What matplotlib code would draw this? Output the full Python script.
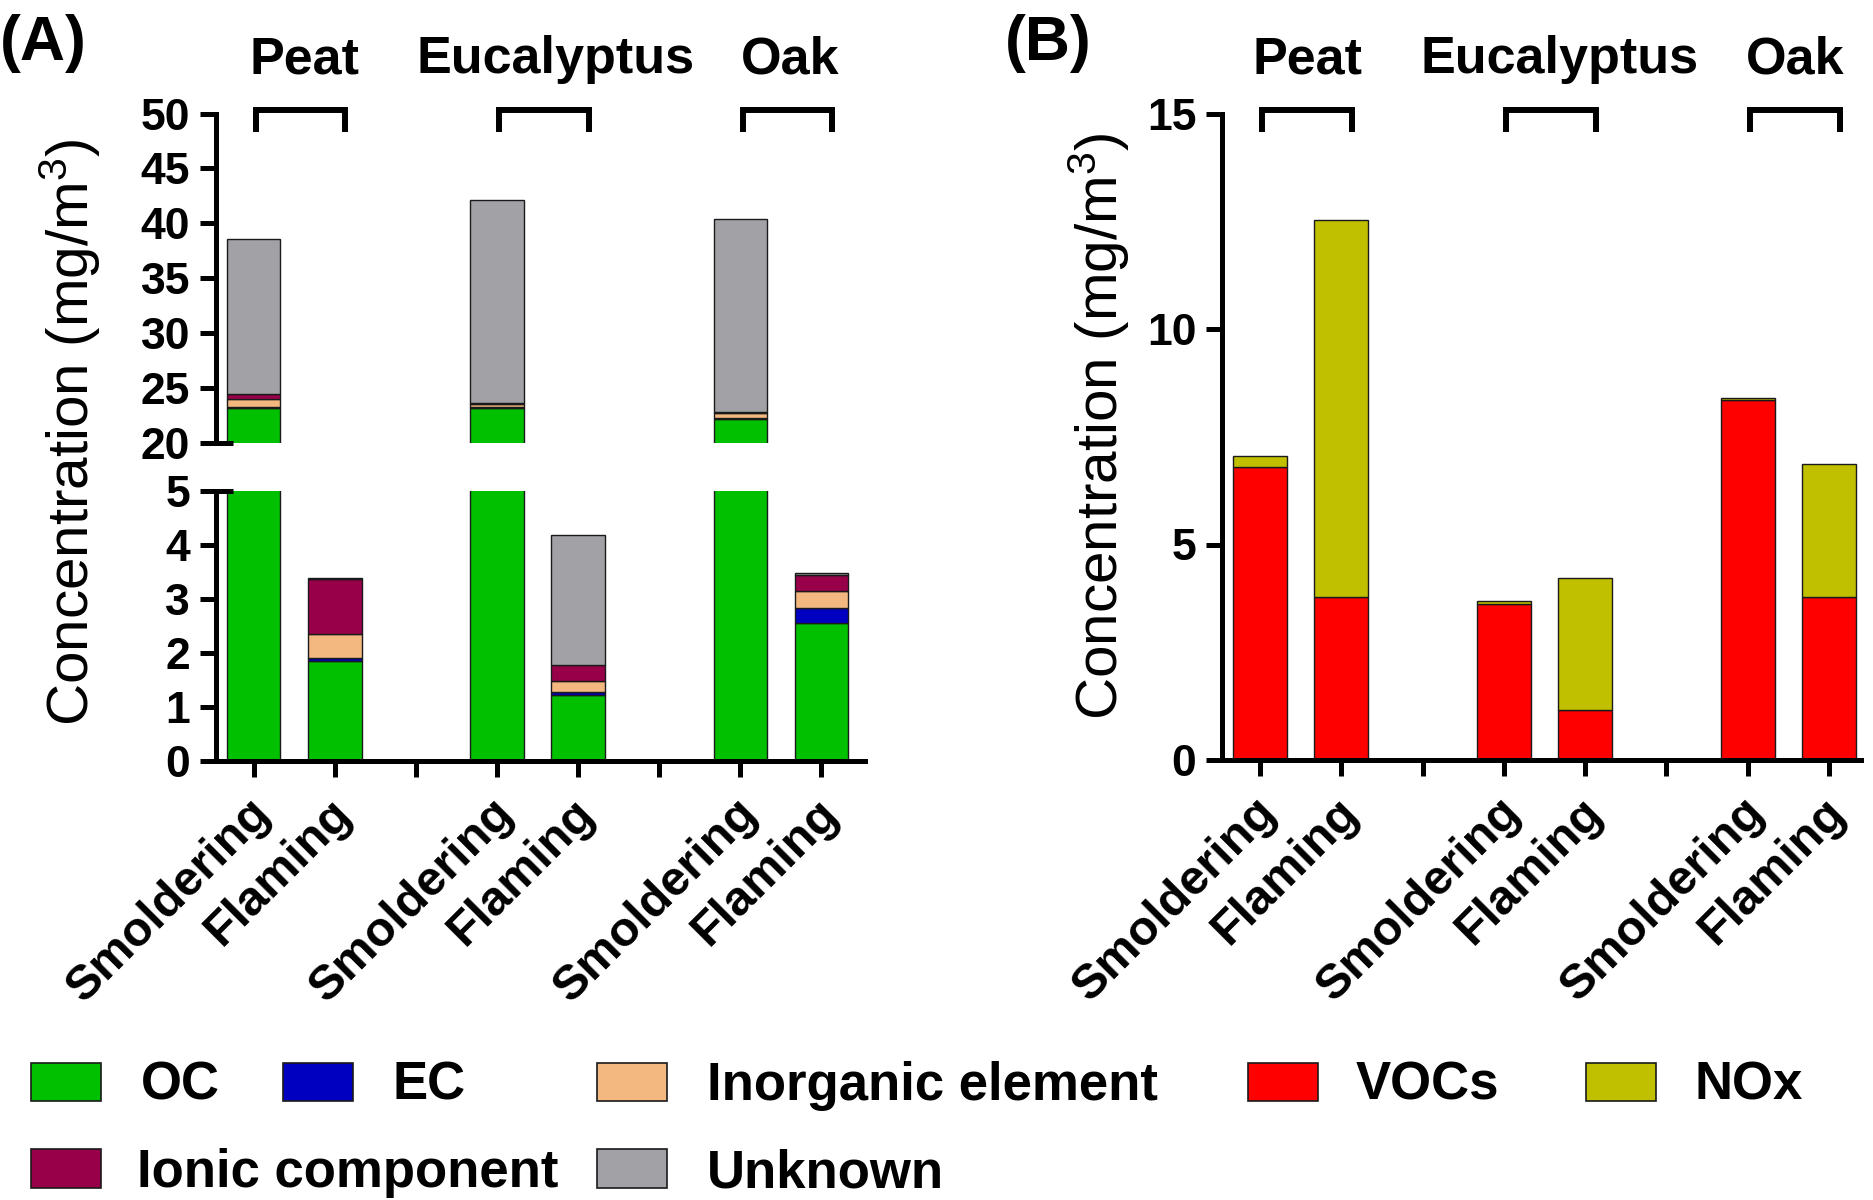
import matplotlib
matplotlib.use("Agg")
import matplotlib.pyplot as plt
import matplotlib.transforms as mtransforms
from matplotlib.patches import Rectangle
import numpy as np

plt.rcParams['font.family'] = ['Liberation Sans', 'DejaVu Sans']
plt.rcParams['mathtext.fontset'] = 'custom'
plt.rcParams['mathtext.rm'] = 'Liberation Sans'
plt.rcParams['mathtext.it'] = 'Liberation Sans'

# ---------------- data ----------------
groups = ["Peat", "Eucalyptus", "Oak"]
conditions = ["Smoldering", "Flaming"]
# order: Peat-S, Peat-F, Euc-S, Euc-F, Oak-S, Oak-F
oc = [23.2, 1.85, 23.2, 1.22, 22.2, 2.55]
ec = [0.06, 0.05, 0.05, 0.06, 0.08, 0.29]
inorganic = [0.75, 0.45, 0.30, 0.20, 0.42, 0.31]
ionic = [0.45, 1.02, 0.10, 0.30, 0.12, 0.30]
unknown = [14.1, 0.02, 18.5, 2.41, 17.6, 0.04]

vocs = [6.79, 3.78, 3.62, 1.16, 8.35, 3.79]
nox = [0.26, 8.75, 0.07, 3.06, 0.06, 3.07]

a_series = [("OC", oc, "#00C000"), ("EC", ec, "#0000C0"),
            ("Inorganic element", inorganic, "#F2B880"),
            ("Ionic component", ionic, "#99004A"), ("Unknown", unknown, "#A2A2A6")]
b_series = [("VOCs", vocs, "#FF0000"), ("NOx", nox, "#C0C000")]

# ---------------- layout ----------------
W, H = 1873, 1200
fig = plt.figure(figsize=(W / 100, H / 100), dpi=100)

def fx(px):
    return px / W

def fy(py):
    return 1 - py / H

x = np.array([g * 3 + c for g in range(len(groups)) for c in range(len(conditions))], dtype=float)
tick_pos = np.arange(8)
tick_labels = []
for g in range(len(groups)):
    tick_labels += conditions
    if g < len(groups) - 1:
        tick_labels.append("")

BW = 0.66
LW = 3.6
TL = 11.5
TICKFS = 32

axA_top = fig.add_axes([fx(215.7), fy(443), fx(865 - 215.7), (443 - 113.5) / H])
axA_bot = fig.add_axes([fx(215.7), fy(761), fx(865 - 215.7), (761 - 491) / H])
axB = fig.add_axes([fx(1222), fy(760), fx(1860.8 - 1222), (760 - 113.5) / H])

def draw_stack(ax, series):
    bottom = np.zeros(len(x))
    for name, vals, col in series:
        v = np.array(vals)
        ax.bar(x, v, width=BW, bottom=bottom, color=col, edgecolor="#1a1a1a", linewidth=1.0)
        bottom += v

for ax in (axA_top, axA_bot):
    draw_stack(ax, a_series)
    ax.set_xlim(-0.4686, 7.538)
draw_stack(axB, b_series)
axB.set_xlim(-0.467, 7.39)

def style_y(ax):
    ax.tick_params(axis='y', length=TL, width=LW, pad=7, labelsize=TICKFS)
    for lab in ax.get_yticklabels():
        lab.set_fontweight('bold')
    ax.spines['left'].set_linewidth(LW)
    ax.spines['top'].set_visible(False)
    ax.spines['right'].set_visible(False)

# upper A
axA_top.set_ylim(20, 50)
axA_top.set_yticks(range(20, 51, 5))
axA_top.spines['bottom'].set_visible(False)
axA_top.set_xticks([])
style_y(axA_top)

# lower A
axA_bot.set_ylim(0, 5)
axA_bot.set_yticks(range(0, 6))
style_y(axA_bot)

# B
axB.set_ylim(0, 15)
axB.set_yticks([0, 5, 10, 15])
style_y(axB)

label_shift = mtransforms.ScaledTranslation(-6 / 100, -5 / 100, fig.dpi_scale_trans)
for ax in (axA_bot, axB):
    ax.spines['bottom'].set_linewidth(LW)
    ax.set_xticks(tick_pos)
    ax.set_xticklabels(tick_labels, rotation=45, ha='right', va='top',
                       rotation_mode='anchor', fontsize=35, fontweight='bold')
    ax.tick_params(axis='x', length=TL, width=LW, pad=6)
    for lab in ax.get_xticklabels():
        lab.set_transform(lab.get_transform() + label_shift)

# axis-break end caps
for ax, yv in ((axA_top, 20), (axA_bot, 5)):
    tr = mtransforms.blended_transform_factory(ax.transAxes, ax.transData)
    ax.plot([0, 17 / (865 - 215.7)], [yv, yv], transform=tr, clip_on=False,
            color='black', lw=LW, solid_capstyle='butt')

# group brackets and labels
def brackets(ax, label_offsets):
    tr = mtransforms.blended_transform_factory(ax.transData, fig.transFigure)
    ytop, ybot = fy(110), fy(132)
    for g, name in enumerate(groups):
        s = g * 3
        x0, x1 = s + 0.03, s + 1.13
        ax.plot([x0, x0, x1, x1], [ybot, ytop, ytop, ybot], transform=tr,
                clip_on=False, color='black', lw=4.3, solid_joinstyle='miter',
                solid_capstyle='butt')
        ax.text(s + label_offsets[g], fy(73), name, transform=tr, ha='center',
                va='baseline', fontsize=37.5, fontweight='bold')

brackets(axA_top, [0.63, 0.72, 0.62])
brackets(axB, [0.59, 0.68, 0.58])

# panel labels
fig.text(fx(0), fy(60), "(A)", fontsize=45, fontweight='bold', ha='left', va='baseline')
fig.text(fx(1005), fy(60), "(B)", fontsize=45, fontweight='bold', ha='left', va='baseline')

# y labels
ylab = "Concentration (mg/m$^3$)"
fig.text(fx(70), fy(432), ylab, rotation=90, ha='center', va='center', fontsize=42)
fig.text(fx(1099), fy(426), ylab, rotation=90, ha='center', va='center', fontsize=42)

# legend (manual)
legend_items = [
    ("OC", "#00C000", 31, 141, 0), ("EC", "#0000C0", 283, 392, 0),
    ("Inorganic element", "#F2B880", 597, 707, 0), ("VOCs", "#FF0000", 1248, 1356, 0),
    ("NOx", "#C0C000", 1586, 1694, 0),
    ("Ionic component", "#99004A", 31, 137, 1), ("Unknown", "#A2A2A6", 597, 707, 1),
]
rows = [(1063, 1101, 1100), (1149, 1188, 1187)]
for name, col, px, tx, r in legend_items:
    y0, y1, yb = rows[r]
    fig.patches.append(Rectangle((fx(px), fy(y1)), fx(70), (y1 - y0) / H,
                                 transform=fig.transFigure, facecolor=col,
                                 edgecolor='#1a1a1a', linewidth=1.2))
    fig.text(fx(tx), fy(yb), name, fontsize=38, fontweight='bold', ha='left', va='baseline')

fig.savefig("out.png", dpi=100)
